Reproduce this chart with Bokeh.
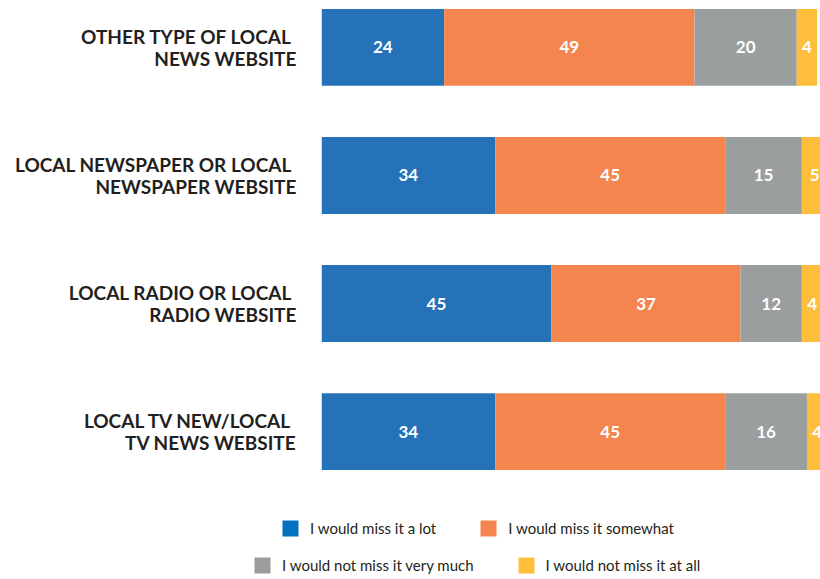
from bokeh.plotting import figure
from bokeh.models import FactorRange, Range1d, ColumnDataSource, Legend, LegendItem
from bokeh.core.properties import value
from bokeh.embed import file_html
from bokeh.resources import INLINE
import pandas as pd

# ---- data ----
categories = [
    "OTHER TYPE OF LOCAL \nNEWS WEBSITE",
    "LOCAL NEWSPAPER OR LOCAL \nNEWSPAPER WEBSITE",
    "LOCAL RADIO OR LOCAL \nRADIO WEBSITE",
    "LOCAL TV NEW/LOCAL \nTV NEWS WEBSITE",
]
series_names = [
    "I would miss it a lot",
    "I would miss it somewhat",
    "I would not miss it very much",
    "I would not miss it at all",
]
miss_a_lot = [24, 34, 45, 34]
miss_somewhat = [49, 45, 37, 45]
not_very_much = [20, 15, 12, 16]
not_at_all = [4, 5, 4, 4]

colors = ["#2572B9", "#F5854F", "#9B9E9F", "#FDBE3C"]
legend_colors = ["#0072C0", "#F5854F", "#9D9D9D", "#FEBE3C"]
keys = ["a", "b", "c", "d"]

df = pd.DataFrame({"cat": categories, "a": miss_a_lot, "b": miss_somewhat,
                   "c": not_very_much, "d": not_at_all})
source = ColumnDataSource(df)

FONT = "Lato"

p = figure(
    width=820, height=490,
    y_range=FactorRange(factors=categories[::-1], range_padding=-0.196,
                        range_padding_units="absolute"),
    x_range=Range1d(0, 97.65),
    output_backend="svg", toolbar_location=None,
    min_border_left=321, min_border_right=0, min_border_top=8, min_border_bottom=20,
)
p.outline_line_color = None
p.xgrid.visible = False
p.ygrid.visible = False
p.xaxis.visible = False

renderers = p.hbar_stack(keys, y="cat", height=0.6, color=colors, line_color=None,
                         source=source)

# value labels
lab_x, lab_y, lab_t = [], [], []
for i, row in df.iterrows():
    left = 0
    for k in keys:
        v = row[k]
        lab_x.append(left + v / 2)
        lab_y.append(row["cat"])
        lab_t.append(str(v))
        left += v
p.text(x=lab_x, y=lab_y, text=lab_t, text_color="white", text_font=value(FONT),
       text_font_style="bold", text_font_size="17px", text_align="center",
       text_baseline="middle")

ax = p.yaxis[0]
ax.axis_line_color = None
ax.major_tick_line_color = None
ax.major_tick_out = 0
ax.major_tick_in = 0
ax.major_label_standoff = 25
ax.major_label_text_font = FONT
ax.major_label_text_font_style = "bold"
ax.major_label_text_font_size = "19px"
ax.major_label_text_color = "#231F20"
ax.major_label_text_line_height = 0.92

# ---- legend figure (separate root so it is not frame-aligned) ----
lg = figure(
    width=820, height=89, x_range=Range1d(0, 820), y_range=Range1d(0, 89),
    output_backend="svg", toolbar_location=None,
    min_border_left=0, min_border_right=0, min_border_top=0, min_border_bottom=0,
)
lg.outline_line_color = None
lg.xaxis.visible = False
lg.yaxis.visible = False
lg.xgrid.visible = False
lg.ygrid.visible = False
# legend key renderers: same series data, kept hidden (only their legend swatches show)
dummy = []
for k, c in zip(keys, legend_colors):
    r = lg.hbar(y=k, right=k, height=1, color=c, line_color=None, source=source)
    r.visible = False
    dummy.append(r)


def make_legend(idx, loc):
    return Legend(
        items=[LegendItem(label=series_names[i], renderers=[dummy[i]]) for i in idx],
        location=loc, orientation="horizontal",
        glyph_width=20, glyph_height=20, label_standoff=10, spacing=42,
        padding=0, margin=0, border_line_color=None, background_fill_alpha=0,
        label_text_font=FONT, label_text_font_size="15px", label_text_color="#231F20",
        label_height=20, inactive_fill_alpha=0,
    )


lg.add_layout(make_legend([0, 1], (280, 41)), "center")
lg.add_layout(make_legend([2, 3], (252, 4)), "center")

open("out.html", "w").write(file_html([p, lg], INLINE))
